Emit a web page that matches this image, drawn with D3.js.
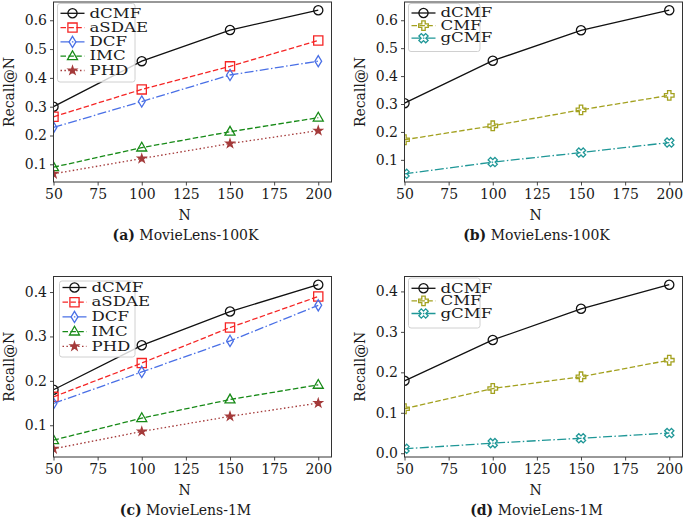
<!DOCTYPE html>
<html><head><meta charset="utf-8">
<script src="https://cdn.jsdelivr.net/npm/d3@7"></script>
<style>
body{margin:0;background:#fff;}
text{font-family:"DejaVu Serif",serif;fill:#1a1a1a;}
</style></head>
<body><svg id="chart" width="685" height="520"></svg>
<script>
// ---------- data ----------
const nValues = [50, 100, 150, 200];
const xTickValues = [50, 75, 100, 125, 150, 175, 200];
const yTicksA = [0.1, 0.2, 0.3, 0.4, 0.5, 0.6];
const yTicksB = [0.1, 0.2, 0.3, 0.4, 0.5, 0.6];
const yTicksC = [0.1, 0.2, 0.3, 0.4];
const yTicksD = [0.0, 0.1, 0.2, 0.3, 0.4];

// (a) MovieLens-100K
const a_dCMF  = [0.300, 0.458, 0.566, 0.635];
const a_aSDAE = [0.265, 0.360, 0.440, 0.530];
const a_DCF   = [0.228, 0.318, 0.410, 0.458];
const a_IMC   = [0.090, 0.158, 0.213, 0.262];
const a_PHD   = [0.067, 0.120, 0.172, 0.217];
// (b) MovieLens-100K
const b_dCMF = [0.303, 0.455, 0.564, 0.636];
const b_CMF  = [0.172, 0.222, 0.279, 0.331];
const b_gCMF = [0.050, 0.092, 0.126, 0.162];
// (c) MovieLens-1M
const c_dCMF  = [0.180, 0.280, 0.356, 0.4165];
const c_aSDAE = [0.164, 0.240, 0.320, 0.390];
const c_DCF   = [0.149, 0.220, 0.290, 0.370];
const c_IMC   = [0.0665, 0.116, 0.158, 0.191];
const c_PHD   = [0.047, 0.086, 0.120, 0.150];
// (d) MovieLens-1M
const d_dCMF = [0.179, 0.280, 0.357, 0.4166];
const d_CMF  = [0.110, 0.160, 0.189, 0.230];
const d_gCMF = [0.011, 0.025, 0.037, 0.050];

const captionsTag = ["(a)", "(b)", "(c)", "(d)"];
const captionsName = ["MovieLens-100K", "MovieLens-100K", "MovieLens-1M", "MovieLens-1M"];

// ---------- styles ----------
const style = {
  dCMF:  {color: "#111111", dash: null,          marker: "circle"},
  aSDAE: {color: "#f52525", dash: "5.5,2.4",     marker: "square"},
  DCF:   {color: "#4a70e6", dash: "9,2.4,1.5,2.4", marker: "thin_diamond"},
  IMC:   {color: "#178a17", dash: "5.5,2.4",     marker: "triangle"},
  PHD:   {color: "#a43a3a", dash: "1.5,2.4",     marker: "star"},
  CMF:   {color: "#a3a11f", dash: "5.5,2.4",     marker: "plus"},
  gCMF:  {color: "#1f9797", dash: "9,2.4,1.5,2.4", marker: "xfill"}
};

function markerPath(type) {
  switch (type) {
    case "circle": return d3.arc()({innerRadius:0, outerRadius:4.6, startAngle:0, endAngle:2*Math.PI});
    case "square": return "M-4.6,-4.6H4.6V4.6H-4.6Z";
    case "thin_diamond": return "M0,-5.6L3.4,0L0,5.6L-3.4,0Z";
    case "triangle": return "M0,-5.4L5,3.4L-5,3.4Z";
    case "star": return d3.symbol(d3.symbolStar, 20)();
    case "plus": {
      const r = 4.8, t = 1.7;
      return `M${-t},${-r}H${t}V${-t}H${r}V${t}H${t}V${r}H${-t}V${t}H${-r}V${-t}H${-t}Z`;
    }
    case "xfill": {
      const r = 4.8, t = 1.7;
      return `M${-t},${-r}H${t}V${-t}H${r}V${t}H${t}V${r}H${-t}V${t}H${-r}V${-t}H${-t}Z`;
    }
  }
}
function markerTransform(type, x, y) {
  return type === "xfill" ? `translate(${x},${y}) rotate(45)` : `translate(${x},${y})`;
}
function markerFill(name) { return name === "PHD" ? style[name].color : "none"; }

const panels = [
  {left:53.5, right:331.5, top:2, bottom:182, yTicks:yTicksA,
   series:[["dCMF",a_dCMF],["aSDAE",a_aSDAE],["DCF",a_DCF],["IMC",a_IMC],["PHD",a_PHD]],
   legend:{x0:57.5, x1:135, y0:3.5, y1:82, row0:13.3, step:14.3, fs:12, sx:1.38}},
  {left:404.5, right:682.5, top:2, bottom:182, yTicks:yTicksB,
   series:[["dCMF",b_dCMF],["CMF",b_CMF],["gCMF",b_gCMF]],
   legend:{x0:408.5, x1:480, y0:3.5, y1:51.5, row0:13, step:12.6, fs:12, sx:1.38}},
  {left:53.5, right:331.5, top:276.5, bottom:457, yTicks:yTicksC,
   series:[["dCMF",c_dCMF],["aSDAE",c_aSDAE],["DCF",c_DCF],["IMC",c_IMC],["PHD",c_PHD]],
   legend:{x0:59.5, x1:135, y0:281, y1:357, row0:287.5, step:14.7, fs:12, sx:1.38}},
  {left:404.5, right:682.5, top:276.5, bottom:457, yTicks:yTicksD,
   series:[["dCMF",d_dCMF],["CMF",d_CMF],["gCMF",d_gCMF]],
   legend:{x0:408.5, x1:480, y0:278, y1:328, row0:288.3, step:12.6, fs:12, sx:1.38}}
];

const svg = d3.select("#chart");

panels.forEach((p, i) => {
  const allVals = p.series.flatMap(s => s[1]);
  const mn = d3.min(allVals), mx = d3.max(allVals), rg = mx - mn;
  const x = d3.scaleLinear().domain([50, 207.5]).range([p.left, p.right]);
  const y = d3.scaleLinear().domain([mn - 0.05*rg, mx + 0.05*rg]).range([p.bottom, p.top]);
  const g = svg.append("g");
  const clipId = "clip" + i;
  g.append("clipPath").attr("id", clipId).append("rect")
    .attr("x", p.left).attr("y", p.top).attr("width", p.right - p.left).attr("height", p.bottom - p.top);

  // axes
  const xAxis = d3.axisBottom(x).tickValues(xTickValues).tickSize(3.5).tickPadding(3).tickFormat(d3.format("d"));
  const yAxis = d3.axisLeft(y).tickValues(p.yTicks).tickSize(3.5).tickPadding(3).tickFormat(d3.format(".1f"));
  const gx = g.append("g").attr("transform", `translate(0,${p.bottom})`).call(xAxis);
  const gy = g.append("g").attr("transform", `translate(${p.left},0)`).call(yAxis);
  [gx, gy].forEach(a => {
    a.select(".domain").remove();
    a.selectAll("line").attr("stroke", "#333").attr("stroke-width", 0.9);
    a.selectAll("text").attr("font-size", 14).attr("fill", "#1a1a1a").style("font-family", "DejaVu Serif");
  });
  gx.selectAll("text").attr("dy", "0.75em");

  // lines and markers
  const plot = g.append("g").attr("clip-path", `url(#${clipId})`);
  const line = d3.line().x((d, j) => x(nValues[j])).y(d => y(d));
  p.series.forEach(([name, vals]) => {
    const st = style[name];
    plot.append("path").datum(vals).attr("d", line)
      .attr("fill", "none").attr("stroke", st.color).attr("stroke-width", 1.3)
      .attr("stroke-dasharray", st.dash);
    plot.selectAll(null).data(vals).enter().append("path")
      .attr("d", markerPath(st.marker))
      .attr("transform", (d, j) => markerTransform(st.marker, x(nValues[j]), y(d)))
      .attr("fill", markerFill(name)).attr("stroke", st.color).attr("stroke-width", 1.3);
  });

  // frame
  g.append("rect").attr("x", p.left).attr("y", p.top)
    .attr("width", p.right - p.left).attr("height", p.bottom - p.top)
    .attr("fill", "none").attr("stroke", "#333").attr("stroke-width", 1);

  // legend
  const L = p.legend;
  g.append("rect").attr("x", L.x0).attr("y", L.y0).attr("width", L.x1 - L.x0).attr("height", L.y1 - L.y0)
    .attr("rx", 2.5).attr("fill", "#fff").attr("fill-opacity", 0.8)
    .attr("stroke", "#d0d0d0").attr("stroke-width", 1);
  p.series.forEach(([name], k) => {
    const st = style[name];
    const ry = L.row0 + k * L.step;
    const hx0 = L.x0 + 3, hx1 = L.x0 + 27;
    g.append("line").attr("x1", hx0).attr("x2", hx1).attr("y1", ry).attr("y2", ry)
      .attr("stroke", st.color).attr("stroke-width", 1.3).attr("stroke-dasharray", st.dash);
    g.append("path").attr("d", markerPath(st.marker))
      .attr("transform", markerTransform(st.marker, (hx0 + hx1) / 2, ry))
      .attr("fill", markerFill(name)).attr("stroke", st.color).attr("stroke-width", 1.3);
    g.append("text").attr("transform", `translate(${L.x0 + 32},${ry}) scale(${L.sx},1)`)
      .attr("dy", "0.35em").attr("font-size", L.fs).text(name);
  });

  // axis labels
  const cx = (p.left + p.right) / 2;
  g.append("text").attr("x", cx - 8).attr("y", p.bottom + 33).attr("dy", "0.35em")
    .attr("text-anchor", "middle").attr("font-size", 14).text("N");
  g.append("text").attr("transform", `translate(${p.left - 44},${(p.top + p.bottom) / 2}) rotate(-90)`)
    .attr("dy", "0.35em").attr("text-anchor", "middle").attr("font-size", 14).text("Recall@N");
  const cap = g.append("text").attr("x", cx - 7).attr("y", p.bottom + 53).attr("dy", "0.35em")
    .attr("text-anchor", "middle").attr("font-size", 14);
  cap.append("tspan").attr("font-weight", "bold").text(captionsTag[i]);
  cap.append("tspan").text(" " + captionsName[i]);
});
</script></body></html>
